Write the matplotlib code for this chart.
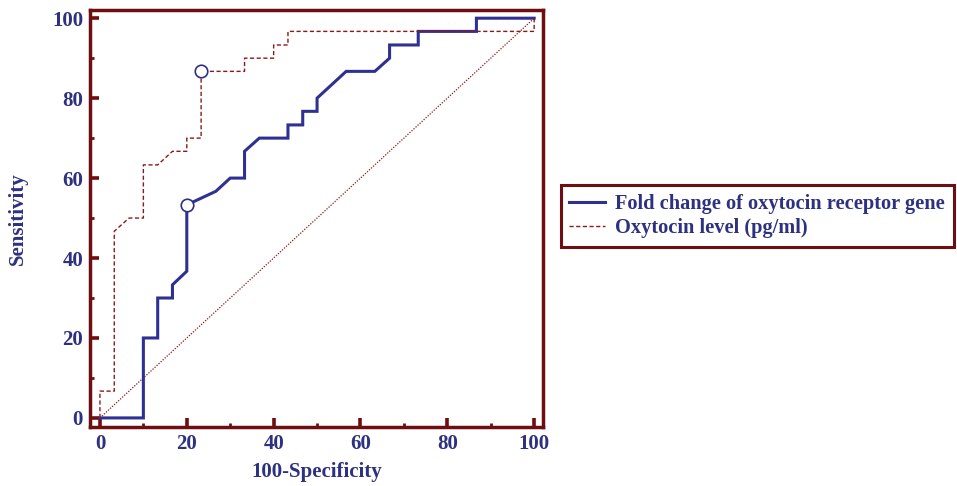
import matplotlib
matplotlib.use("Agg")
import matplotlib.pyplot as plt
from matplotlib.ticker import MultipleLocator

# ROC curve data (100-Specificity, Sensitivity)
fold_x = [0, 10, 10, 13.3, 13.3, 16.7, 16.7, 20, 20, 26.7, 30, 33.3, 33.3, 36.7, 43.3, 43.3,
          46.7, 46.7, 50, 50, 53.3, 56.7, 63.3, 66.7, 66.7, 73.3, 73.3, 86.7, 86.7, 100]
fold_y = [0, 0, 20, 20, 30, 30, 33.3, 36.7, 53.3, 56.7, 60, 60, 66.7, 70, 70, 73.3,
          73.3, 76.7, 76.7, 80, 83.3, 86.7, 86.7, 90, 93.3, 93.3, 96.7, 96.7, 100, 100]
oxy_x = [0, 0, 3.3, 3.3, 6.7, 10, 10, 13.3, 16.7, 20, 20, 23.3, 23.3, 33.3, 33.3, 40, 40,
         43.3, 43.3, 100, 100]
oxy_y = [0, 6.7, 6.7, 46.7, 50, 50, 63.3, 63.3, 66.7, 66.7, 70, 70, 86.7, 86.7, 90, 90, 93.3,
         93.3, 96.7, 96.7, 100]
fold_cut = (20, 53.3)
oxy_cut = (23.3, 86.7)
labels = ["Fold change of oxytocin receptor gene", "Oxytocin level (pg/ml)"]

SPINE = "#6E0E10"
NAVY = "#2E3180"
BLUE = "#2E3192"
RED = "#8B1A1A"

plt.rcParams['font.family'] = ['Liberation Serif', 'DejaVu Serif']
plt.rcParams['font.weight'] = 'bold'

fig = plt.figure(figsize=(9.57, 4.86), dpi=100)
ax = fig.add_axes([0.094, 0.122, 0.4737, 0.857])

ax.plot([0, 100], [0, 100], color=RED, lw=0.9, ls=(0, (1, 1.2)))
l1, = ax.plot(fold_x, fold_y, color=BLUE, lw=2.2, solid_joinstyle='miter')
l2, = ax.plot(oxy_x, oxy_y, color=RED, lw=1.0, ls=(0, (3, 1.8)))
ax.plot(*fold_cut, marker='o', ms=9, mfc='white', mec=NAVY, mew=1.2, zorder=5)
ax.plot(*oxy_cut, marker='o', ms=9, mfc='white', mec=NAVY, mew=1.2, zorder=5)

ax.set_xlim(-2.3, 102.1)
ax.set_ylim(-2.2, 102)
ax.xaxis.set_major_locator(MultipleLocator(20))
ax.xaxis.set_minor_locator(MultipleLocator(10))
ax.yaxis.set_major_locator(MultipleLocator(20))
ax.yaxis.set_minor_locator(MultipleLocator(10))
for s in ax.spines.values():
    s.set_color(SPINE)
    s.set_linewidth(2.5)
ax.tick_params(which='major', direction='in', length=6.5, width=2.6, color=SPINE,
               labelsize=15, labelcolor=NAVY, pad=5)
ax.tick_params(which='minor', direction='in', length=3, width=2.0, color=SPINE)
for lab in ax.get_xticklabels() + ax.get_yticklabels():
    lab.set_fontweight('bold')

ax.set_xlabel("100-Specificity", fontsize=15, fontweight='bold', color=NAVY, labelpad=6)
ax.set_ylabel("Sensitivity", fontsize=15, fontweight='bold', color=NAVY, labelpad=17)

leg = fig.legend([l1, l2], labels, loc='upper left', bbox_to_anchor=(0.586, 0.619),
                 frameon=True, fancybox=False, framealpha=1, fontsize=14.7, handlelength=1.75,
                 borderpad=0.42, labelspacing=0.22, handletextpad=0.5, borderaxespad=0)
fr = leg.get_frame()
fr.set_edgecolor(SPINE)
fr.set_linewidth(2.2)
for t in leg.get_texts():
    t.set_color(NAVY)
    t.set_fontweight('bold')

fig.savefig("out.png", dpi=100)
